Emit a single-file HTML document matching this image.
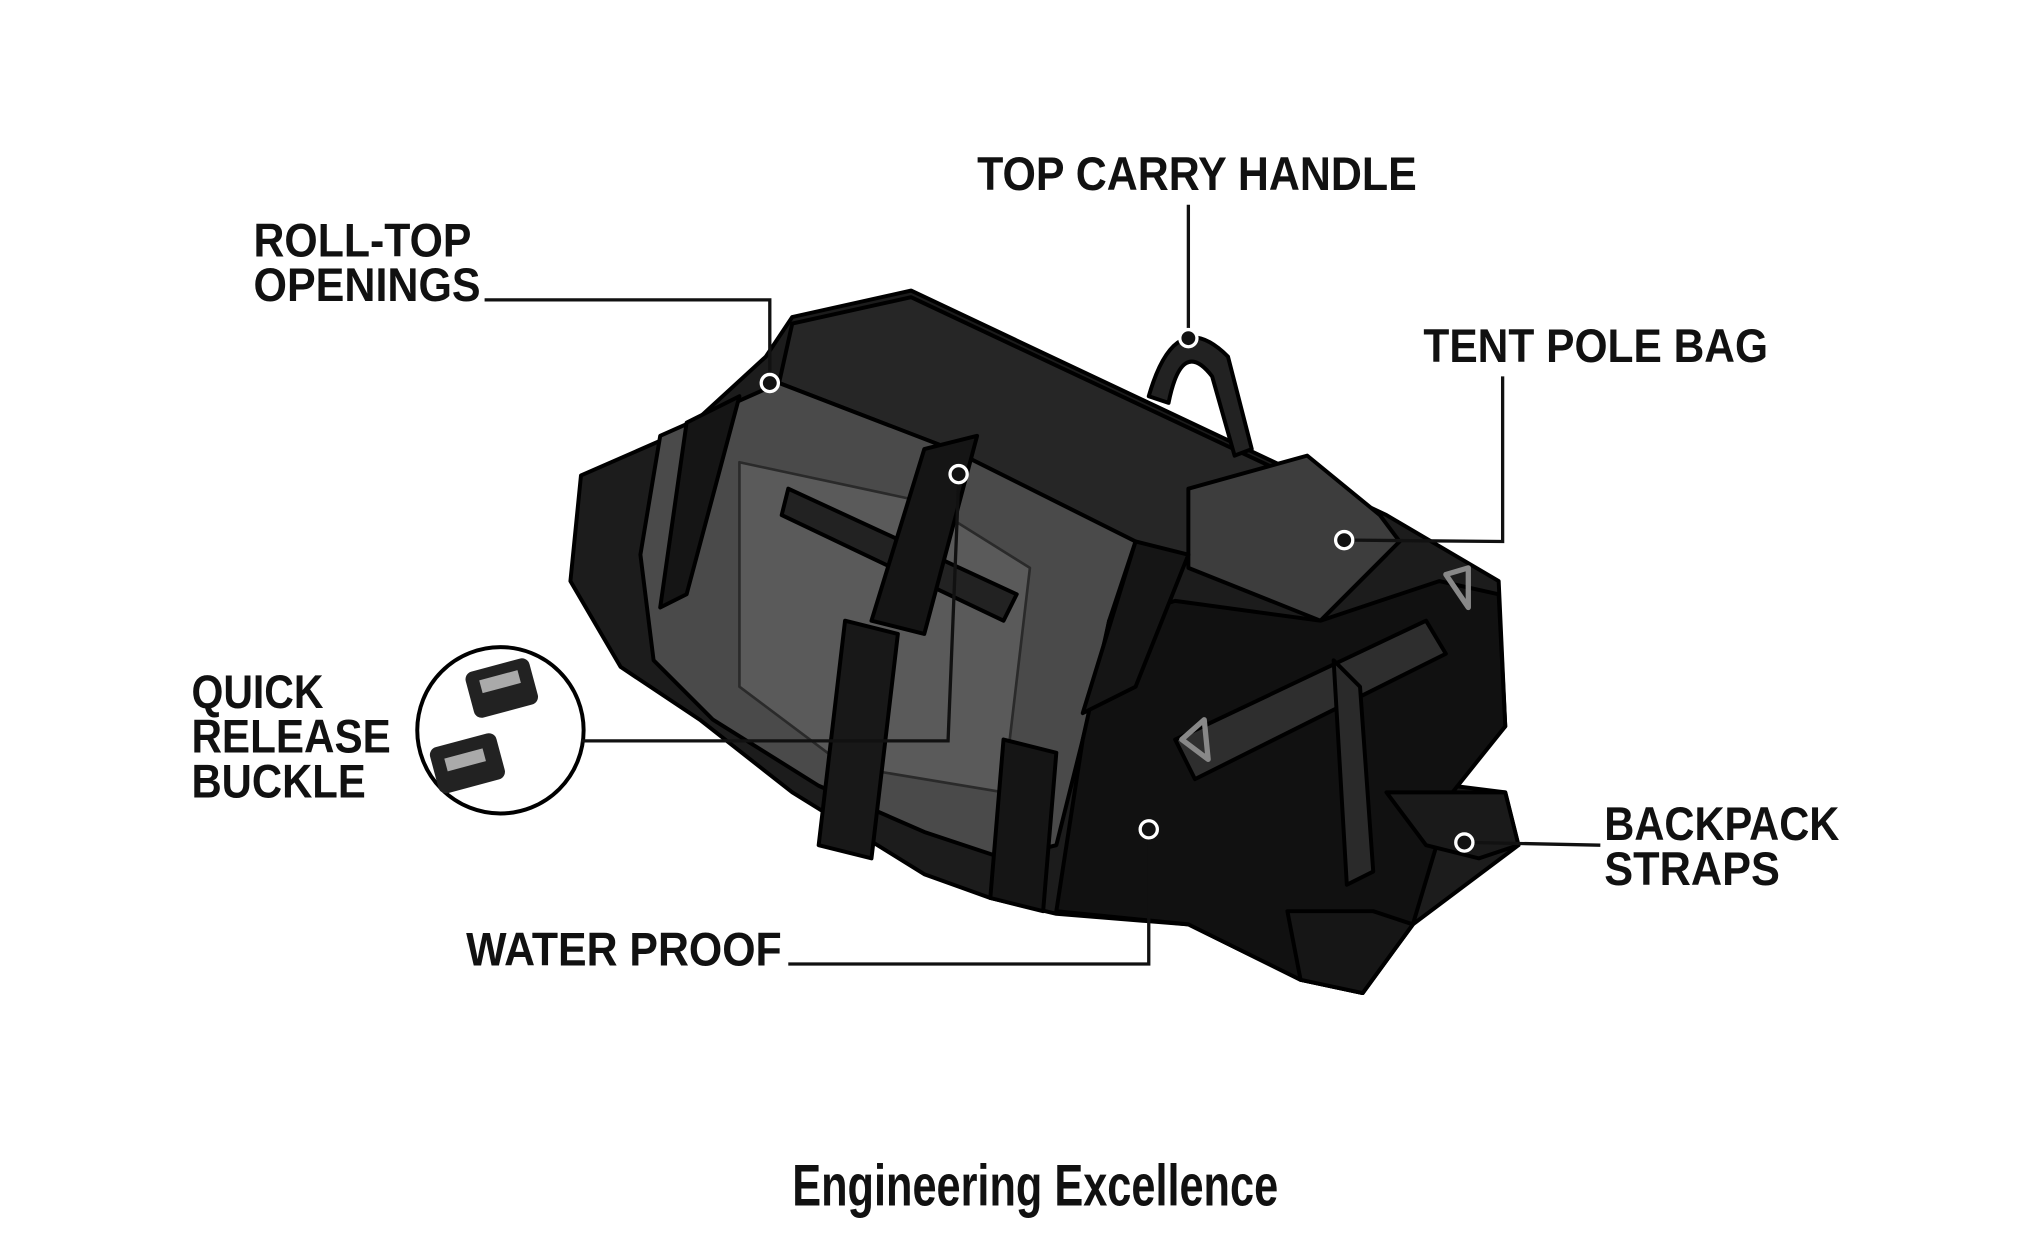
<!DOCTYPE html>
<html><head><meta charset="utf-8"><style>
html,body{margin:0;padding:0;background:#fff;}
svg{display:block;}
text{font-family:"Liberation Sans Narrow","Liberation Sans",sans-serif;font-weight:bold;fill:#111;}
</style></head><body>
<svg width="2044" height="1248" viewBox="0 0 1548 945" xmlns="http://www.w3.org/2000/svg">
<rect width="1548" height="945" fill="#fff"/>
<!-- bag body -->
<g stroke="#000" stroke-width="3" stroke-linejoin="round">
<path d="M600,240 L690,220 L1050,390 L1135,440 L1140,550 L1100,595 L1140,600 L1150,640 L1070,700 L1032,752 L985,742 L900,700 L800,692 L750,680 L700,662 L600,600 L530,545 L470,505 L432,440 L440,360 L520,325 L580,270 Z" fill="#1c1c1c"/>
<!-- top dark panel -->
<path d="M600,245 L690,225 L1045,392 L1050,420 L1000,470 L860,410 L720,340 L590,290 Z" fill="#262626"/>
<!-- grey side window -->
<path d="M500,330 L590,290 L720,340 L860,410 L840,470 L830,520 L800,640 L760,650 L700,630 L620,595 L540,545 L495,500 L485,420 Z" fill="#4a4a4a"/>
<path d="M560,350 L700,380 L780,430 L760,600 L640,580 L560,520 Z" fill="#5a5a5a" stroke="#2a2a2a" stroke-width="2"/>
<path d="M597,370 L770,450 L760,470 L592,390 Z" fill="#222"/>
<!-- tent pole bag -->
<path d="M900,370 L990,345 L1045,390 L1060,410 L1000,470 L900,430 Z" fill="#3d3d3d"/>
<!-- front end panel -->
<path d="M840,470 L890,455 L1000,470 L1090,440 L1135,450 L1140,550 L1100,600 L1070,700 L1032,752 L985,742 L900,700 L800,690 L820,560 Z" fill="#111"/>
<path d="M890,560 L1080,470 L1095,495 L905,590 Z" fill="#2e2e2e"/>
<path d="M1010,500 L1030,520 L1040,660 L1020,670 Z" fill="#2a2a2a"/>
<!-- backpack straps -->
<path d="M1050,600 L1140,600 L1150,640 L1120,650 L1080,640 Z" fill="#1a1a1a"/>
<path d="M975,690 L1040,690 L1070,700 L1032,752 L985,742 Z" fill="#161616"/>
<!-- handle -->
<path d="M870,300 Q890,230 930,270 L948,340 L935,345 L918,285 Q895,255 885,305 Z" fill="#222"/>
<!-- straps -->
<path d="M520,320 L560,300 L520,450 L500,460 Z" fill="#151515"/>
<path d="M700,340 L740,330 L700,480 L660,470 Z" fill="#151515"/>
<path d="M860,410 L900,420 L860,520 L820,540 Z" fill="#151515"/>
<path d="M640,470 L680,480 L660,650 L620,640 Z" fill="#181818"/>
<path d="M760,560 L800,570 L790,690 L750,680 Z" fill="#151515"/>
<!-- D rings -->
<path d="M1095,435 L1112,430 L1112,460 Z" fill="none" stroke="#888" stroke-width="4"/>
<path d="M895,560 L912,545 L915,575 Z" fill="none" stroke="#888" stroke-width="4"/>
</g>
<!-- buckle inset -->
<circle cx="379" cy="553" r="63" fill="#fff" stroke="#000" stroke-width="3"/>
<rect x="355" y="503" width="50" height="36" rx="6" fill="#222" transform="rotate(-15 380 521)"/>
<rect x="365" y="511" width="30" height="10" fill="#aaa" transform="rotate(-15 380 521)"/>
<rect x="328" y="560" width="52" height="36" rx="6" fill="#222" transform="rotate(-15 354 578)"/>
<rect x="338" y="570" width="30" height="10" fill="#aaa" transform="rotate(-15 354 578)"/>
<!-- leader lines -->
<g fill="none" stroke="#111" stroke-width="2.5">
<polyline points="900,155 900,250"/>
<polyline points="367,227 583,227 583,285"/>
<polyline points="1138,285 1138,410 1025,409"/>
<polyline points="440,561 718,561 726,365"/>
<polyline points="1212,640 1116,638"/>
<polyline points="597,730 870,730 870,634"/>
</g>
<g fill="#111" stroke="#fff" stroke-width="2.5">
<circle cx="900" cy="256" r="6.5"/>
<circle cx="583" cy="290" r="6.5"/>
<circle cx="1018" cy="409" r="6.5"/>
<circle cx="726" cy="359" r="6.5"/>
<circle cx="1109" cy="638" r="6.5"/>
<circle cx="870" cy="628" r="6.5"/>
</g>
<!-- labels -->
<g font-size="36">
<text x="740" y="144" textLength="333" lengthAdjust="spacingAndGlyphs">TOP CARRY HANDLE</text>
<text x="192" y="194" textLength="165" lengthAdjust="spacingAndGlyphs">ROLL-TOP</text>
<text x="192" y="228" textLength="172" lengthAdjust="spacingAndGlyphs">OPENINGS</text>
<text x="1078" y="274" textLength="261" lengthAdjust="spacingAndGlyphs">TENT POLE BAG</text>
<text x="145" y="536" textLength="100" lengthAdjust="spacingAndGlyphs">QUICK</text>
<text x="145" y="570" textLength="151" lengthAdjust="spacingAndGlyphs">RELEASE</text>
<text x="145" y="604" textLength="132" lengthAdjust="spacingAndGlyphs">BUCKLE</text>
<text x="1215" y="636" textLength="178" lengthAdjust="spacingAndGlyphs">BACKPACK</text>
<text x="1215" y="670" textLength="133" lengthAdjust="spacingAndGlyphs">STRAPS</text>
<text x="353" y="731" textLength="239" lengthAdjust="spacingAndGlyphs">WATER PROOF</text>
</g>
<text x="600" y="913" font-size="44" font-weight="normal" style="font-weight:bold" textLength="368" lengthAdjust="spacingAndGlyphs">Engineering Excellence</text>
</svg>
</body></html>
